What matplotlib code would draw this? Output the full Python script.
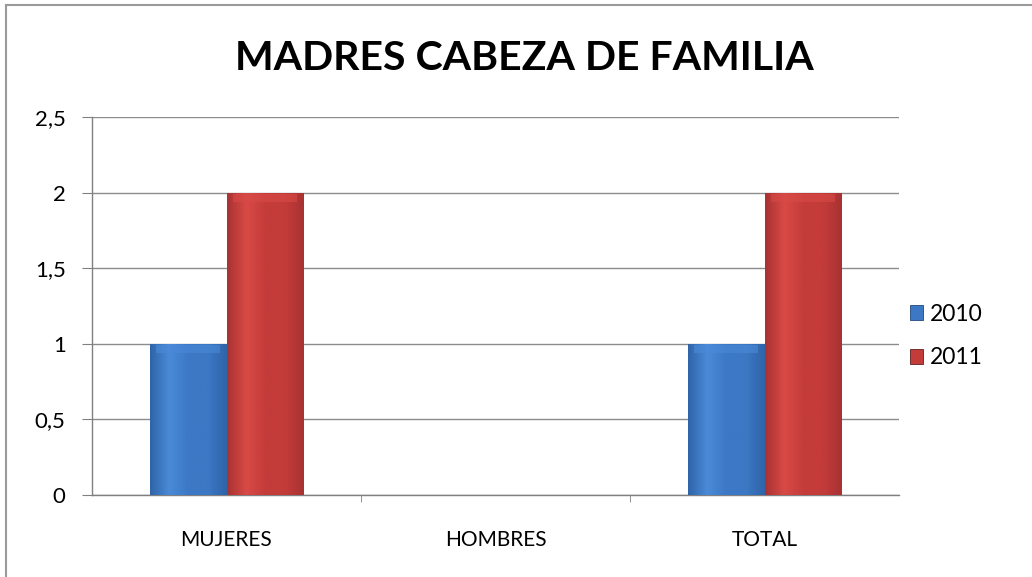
import matplotlib
matplotlib.use("Agg")
import matplotlib.pyplot as plt
import numpy as np
from matplotlib.patches import Rectangle
from matplotlib.colors import LinearSegmentedColormap

categories = ["MUJERES", "HOMBRES", "TOTAL"]
series_names = ["2010", "2011"]
values_2010 = [1, 0, 1]
values_2011 = [2, 0, 2]
yticks = [0, 0.5, 1, 1.5, 2, 2.5]
ytick_labels = ["0", "0,5", "1", "1,5", "2", "2,5"]

FONT = ["Lato", "DejaVu Sans"]
plt.rcParams['font.family'] = FONT

fig = plt.figure(figsize=(10.32, 5.77), dpi=100)
ax = fig.add_axes([92/1032, 1-495/577, (899-92)/1032, (495-117)/577])

x = np.arange(len(categories))
w = 0.284
colors = {"2010": ("#2f64a8", "#4a8ad8", "#3c78c4"),
          "2011": ("#a83232", "#d84a46", "#c43c3a")}

handles = []
for i, (name, vals) in enumerate(zip(series_names, [values_2010, values_2011])):
    dark, light, mid = colors[name]
    bars = ax.bar(x + (i - 0.5) * w, vals, width=w, color=mid,
                  edgecolor="#5a2020" if name == "2011" else "#22487a",
                  linewidth=0.6, zorder=3, label=name)
    cmap = LinearSegmentedColormap.from_list("g", [dark, light, mid, mid, dark])
    grad = np.linspace(0, 1, 256).reshape(1, -1)
    for b in bars:
        h = b.get_height()
        if h <= 0:
            continue
        x0 = b.get_x(); bw = b.get_width()
        im = ax.imshow(grad, extent=[x0, x0 + bw, 0, h], cmap=cmap,
                       aspect="auto", zorder=3.5, interpolation="bicubic")
        im.set_clip_path(b)
        ax.add_patch(Rectangle((x0 + bw*0.08, h - 0.06), bw*0.84, 0.05,
                               color=light, alpha=0.6, zorder=4, lw=0))
    handles.append(bars)

ax.set_xlim(-0.5, 2.5)
ax.set_ylim(0, 2.5)
ax.set_yticks(yticks)
ax.set_yticklabels(ytick_labels, fontsize=16)
ax.set_xticks(x)
ax.set_xticklabels(categories, fontsize=15)
ax.set_xticks([0.5, 1.5], minor=True)
ax.tick_params(axis="x", which="major", length=0, pad=25)
ax.tick_params(axis="x", which="minor", length=5, color="#808080")
ax.tick_params(axis="y", length=7, color="#808080", pad=12)
ax.yaxis.grid(True, color="#8c8c8c", linewidth=1, zorder=0)
ax.set_axisbelow(True)
for s in ["top", "right"]:
    ax.spines[s].set_visible(False)
for s in ["left", "bottom"]:
    ax.spines[s].set_color("#808080")
    ax.spines[s].set_linewidth(1)

fig.text(524/1032, 1-58/577, "MADRES CABEZA DE FAMILIA", ha="center",
         va="center", fontsize=29.5, fontweight="bold")

leg = fig.legend(handles=handles, labels=series_names, loc="center left",
                 bbox_to_anchor=(889/1032, 1-336/577), frameon=False,
                 fontsize=16.5, handlelength=0.6, handleheight=0.6,
                 handletextpad=0.3, labelspacing=1.0)

fig.add_artist(plt.Line2D([6/1032, 6/1032], [0, 1-5/577], transform=fig.transFigure,
                          color="#9a9a9a", lw=1.5))
fig.add_artist(plt.Line2D([6/1032, 1], [1-5/577, 1-5/577], transform=fig.transFigure,
                          color="#9a9a9a", lw=1.5))

fig.savefig("out.png", dpi=100)
